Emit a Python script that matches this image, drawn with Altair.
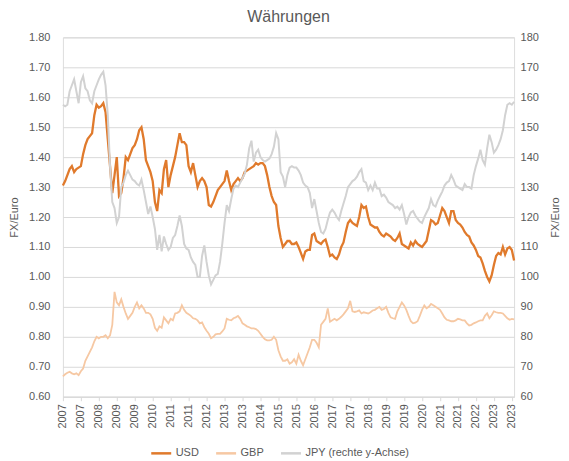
import json
import altair as alt
import pandas as pd

# monthly observations, Jan 2007 .. Oct 2023
months = pd.date_range("2007-01-01", periods=202, freq="MS").strftime("%Y-%m").tolist()

usd = [
    1.305, 1.32, 1.34, 1.36, 1.37, 1.35, 1.36, 1.365, 1.37, 1.41, 1.44, 1.46,
    1.47, 1.48, 1.54, 1.575, 1.565, 1.57, 1.58, 1.55, 1.46, 1.37, 1.28, 1.34,
    1.40, 1.27, 1.28, 1.33, 1.40, 1.39, 1.41, 1.43, 1.44, 1.46, 1.49, 1.50,
    1.46, 1.39, 1.37, 1.35, 1.32, 1.25, 1.22, 1.29, 1.28, 1.36, 1.39, 1.30,
    1.34, 1.37, 1.40, 1.44, 1.48, 1.45, 1.45, 1.44, 1.37, 1.35, 1.38, 1.34,
    1.30, 1.32, 1.33, 1.32, 1.30, 1.24, 1.235, 1.25, 1.27, 1.29, 1.30, 1.31,
    1.32, 1.355, 1.32, 1.29, 1.31, 1.32, 1.33, 1.32, 1.33, 1.35, 1.355, 1.36,
    1.365, 1.37, 1.38, 1.375, 1.38, 1.38, 1.37, 1.34, 1.30, 1.27, 1.25, 1.24,
    1.17, 1.13, 1.10, 1.11, 1.12, 1.12, 1.11, 1.11, 1.115, 1.10, 1.08, 1.06,
    1.085, 1.09, 1.09, 1.14, 1.145, 1.12, 1.115, 1.11, 1.12, 1.125, 1.10, 1.07,
    1.075, 1.065, 1.06, 1.075, 1.10, 1.115, 1.15, 1.18, 1.19, 1.18, 1.175, 1.17,
    1.20, 1.24, 1.23, 1.235, 1.20, 1.175, 1.17, 1.165, 1.165, 1.15, 1.14, 1.135,
    1.145, 1.14, 1.135, 1.125, 1.12, 1.13, 1.145, 1.11, 1.105, 1.10, 1.095, 1.115,
    1.105, 1.12, 1.11, 1.105, 1.10, 1.11, 1.12, 1.155, 1.19, 1.185, 1.175, 1.18,
    1.205, 1.23, 1.22, 1.20, 1.18, 1.22, 1.22, 1.19, 1.18, 1.175, 1.165, 1.15,
    1.14, 1.135, 1.115, 1.105, 1.09, 1.07, 1.065, 1.045, 1.02, 1.00, 0.985, 1.005,
    1.04, 1.07, 1.08, 1.075, 1.10, 1.075, 1.095, 1.10, 1.09, 1.055,
]

gbp = [
    0.668, 0.675, 0.68, 0.683, 0.678, 0.675, 0.678, 0.672, 0.685, 0.694, 0.72, 0.735,
    0.75, 0.765, 0.785, 0.80, 0.795, 0.80, 0.80, 0.805, 0.795, 0.805, 0.84, 0.95,
    0.915, 0.905, 0.925, 0.90, 0.878, 0.86, 0.87, 0.88, 0.90, 0.915, 0.895, 0.905,
    0.895, 0.88, 0.88, 0.875, 0.86, 0.83, 0.82, 0.835, 0.83, 0.865, 0.855, 0.845,
    0.86, 0.855, 0.878, 0.88, 0.885, 0.905, 0.89, 0.88, 0.875, 0.87, 0.862, 0.86,
    0.855, 0.845, 0.848, 0.832, 0.82, 0.81, 0.795, 0.80, 0.808, 0.81, 0.81, 0.818,
    0.828, 0.86, 0.857, 0.855, 0.862, 0.865, 0.87, 0.86, 0.845, 0.84, 0.835, 0.832,
    0.828, 0.828, 0.826, 0.82, 0.81, 0.80, 0.792, 0.788, 0.788, 0.79, 0.80, 0.79,
    0.755, 0.735, 0.72, 0.72, 0.725, 0.71, 0.715, 0.725, 0.71, 0.74, 0.72, 0.705,
    0.725, 0.745, 0.765, 0.79, 0.79, 0.78, 0.765, 0.84, 0.85, 0.86, 0.895, 0.85,
    0.855, 0.86, 0.855, 0.86, 0.867, 0.875, 0.885, 0.895, 0.92, 0.885, 0.883, 0.885,
    0.888, 0.878, 0.882, 0.88, 0.878, 0.882, 0.888, 0.89, 0.895, 0.90, 0.89, 0.893,
    0.90, 0.88, 0.865, 0.862, 0.86, 0.885, 0.90, 0.915, 0.905, 0.89, 0.87, 0.852,
    0.845, 0.847, 0.852, 0.87, 0.89, 0.905, 0.895, 0.90, 0.91, 0.905, 0.90, 0.895,
    0.89, 0.878, 0.865, 0.857, 0.855, 0.852, 0.852, 0.855, 0.86, 0.858, 0.855, 0.855,
    0.845, 0.838, 0.84, 0.845, 0.848, 0.852, 0.855, 0.855, 0.87, 0.878, 0.862, 0.872,
    0.885, 0.882, 0.88, 0.88, 0.878, 0.87, 0.862, 0.857, 0.86, 0.858,
]

jpy = [
    157.5, 157, 157.5, 162, 164, 166, 162, 158, 165, 167, 163, 162,
    159, 158, 162, 164, 166, 167.5, 168.5, 164, 154, 137, 125, 123,
    118, 120, 130, 131.5, 134, 135.5, 134, 132.5, 132, 131, 130.5, 132.5,
    129, 125, 121, 123.5, 120, 116, 109, 114, 108.5, 113.5, 111, 109,
    110, 113, 114, 117, 120.5, 117, 111, 109.5, 109, 106.5, 105, 104,
    100, 100, 107, 110.5, 105, 100.5, 97.5, 99, 100.5, 101, 105, 111,
    118, 124, 122, 126, 129.5, 130.5, 130, 131.5, 133, 134.5, 137.5, 143,
    145.5, 138.5, 141.5, 142.5, 140, 139, 138.5, 139, 139.5, 141, 143.5, 148,
    146, 135, 133.5, 130, 134, 136.5, 137, 136.5, 136.5, 135.5, 134, 131.5,
    130.5, 130, 128, 123, 126, 122, 118, 115, 114.5, 116, 119, 121.5,
    122.5, 121.5, 120, 119, 122, 124.5, 127, 130, 131, 132, 132.5, 133.5,
    135, 136, 132, 131.5, 129, 130.5, 129, 131.5, 129.5, 129.5, 127, 127.5,
    126.5, 125, 124.5, 124, 123, 123.5, 122.5, 124, 121, 117.5, 120, 121.5,
    122, 120.5, 119.5, 118.5, 118, 120, 121.5, 123, 126, 124, 123.5, 125.5,
    127, 128.5, 130.5, 131.5, 132, 134, 132.5, 130.5, 130, 129.5, 129, 131,
    130, 130, 129.5, 134, 137, 139.5, 142.5, 139, 137.5, 143, 147.5, 145,
    141.5, 142.5, 144, 146, 149, 154, 157.5, 158, 157.5, 158.5,
]

series_names = ["USD", "GBP", "JPY (rechte y-Achse)"]
series_colors = ["#E07A2C", "#F6C8A3", "#D2D2D2"]

# x tick labels (one every 8 months)
tick_labels = ["2007", "2007", "2008", "2009", "2009", "2010", "2011", "2011", "2012",
               "2013", "2013", "2014", "2015", "2015", "2016", "2017", "2017", "2018",
               "2019", "2019", "2020", "2021", "2021", "2022", "2023", "2023"]
left_ticks = [0.6, 0.7, 0.8, 0.9, 1.0, 1.1, 1.2, 1.3, 1.4, 1.5, 1.6, 1.7, 1.8]
right_ticks = [60, 70, 80, 90, 100, 110, 120, 130, 140, 150, 160, 170, 180]

idx = list(range(len(months)))
df_usd = pd.DataFrame({"m": idx, "month": months, "value": usd, "series": "USD"})
df_gbp = pd.DataFrame({"m": idx, "month": months, "value": gbp, "series": "GBP"})
df_jpy = pd.DataFrame({"m": idx, "month": months, "value": jpy, "series": "JPY (rechte y-Achse)"})

FONT = "Liberation Sans"
GREY = "#595959"
GRID = "#D9D9D9"

label_expr = json.dumps(tick_labels) + "[round(datum.value / 8)]"

x_enc = alt.X(
    "m:Q",
    scale=alt.Scale(domain=[0, len(months) - 1], nice=False, zero=False),
    axis=alt.Axis(
        values=[i * 8 for i in range(len(tick_labels))],
        labelExpr=label_expr,
        labelAngle=270,
        labelFontSize=11,
        labelColor=GREY,
        labelFont=FONT,
        labelPadding=3,
        labelOverlap=False,
        labelFlush=False,
        domainColor=GRID,
        tickColor=GRID,
        tickSize=4,
        grid=False,
        title=None,
    ),
)

color_enc = alt.Color(
    "series:N",
    scale=alt.Scale(domain=series_names, range=series_colors),
    legend=alt.Legend(
        orient="none",
        legendX=87,
        legendY=405,
        direction="horizontal",
        title=None,
        symbolType="stroke",
        symbolSize=400,
        symbolStrokeWidth=2.5,
        labelFontSize=11,
        labelColor=GREY,
        labelFont=FONT,
        labelOffset=3,
        columnPadding=11,
    ),
)

left_axis = alt.Axis(
    values=left_ticks,
    format=".2f",
    orient="left",
    grid=True,
    gridColor=GRID,
    domain=False,
    ticks=False,
    labelPadding=13,
    labelFontSize=11,
    labelColor=GREY,
    labelFont=FONT,
    title="FX/Euro",
    titleFontSize=11,
    titleFontWeight="normal",
    titleColor=GREY,
    titleFont=FONT,
    titlePadding=9,
)

right_axis = alt.Axis(
    values=right_ticks,
    format="d",
    orient="right",
    grid=False,
    domain=False,
    ticks=False,
    labelPadding=6,
    labelFontSize=11,
    labelColor=GREY,
    labelFont=FONT,
    title="FX/Euro",
    titleAngle=270,
    titleBaseline="top",
    titleFontSize=11,
    titleFontWeight="normal",
    titleColor=GREY,
    titleFont=FONT,
    titlePadding=11,
)

left_scale = alt.Scale(domain=[0.6, 1.8], nice=False, zero=False)
right_scale = alt.Scale(domain=[60, 180], nice=False, zero=False)

jpy_line = alt.Chart(df_jpy).mark_line(strokeWidth=2.0).encode(
    x=x_enc,
    y=alt.Y("value:Q", scale=right_scale, axis=right_axis),
    color=color_enc,
)

gbp_line = alt.Chart(df_gbp).mark_line(strokeWidth=1.8).encode(
    x=x_enc,
    y=alt.Y("value:Q", scale=left_scale, axis=left_axis),
    color=color_enc,
)

usd_line = alt.Chart(df_usd).mark_line(strokeWidth=2.3).encode(
    x=x_enc,
    y=alt.Y("value:Q", scale=left_scale, axis=left_axis),
    color=color_enc,
)

left_layer = alt.layer(gbp_line, usd_line)

chart = (
    alt.layer(left_layer, jpy_line)
    .resolve_scale(y="independent")
    .properties(
        width=452,
        height=360,
        title=alt.TitleParams(
            "Währungen", fontSize=16, fontWeight="normal", color=GREY, font=FONT, offset=6
        ),
        padding={"left": 0, "top": 1, "right": 0, "bottom": 0},
    )
    .configure_view(stroke=None)
    .configure(background="white")
)

chart.save("out.html", embed_options={"renderer": "svg", "actions": False})
